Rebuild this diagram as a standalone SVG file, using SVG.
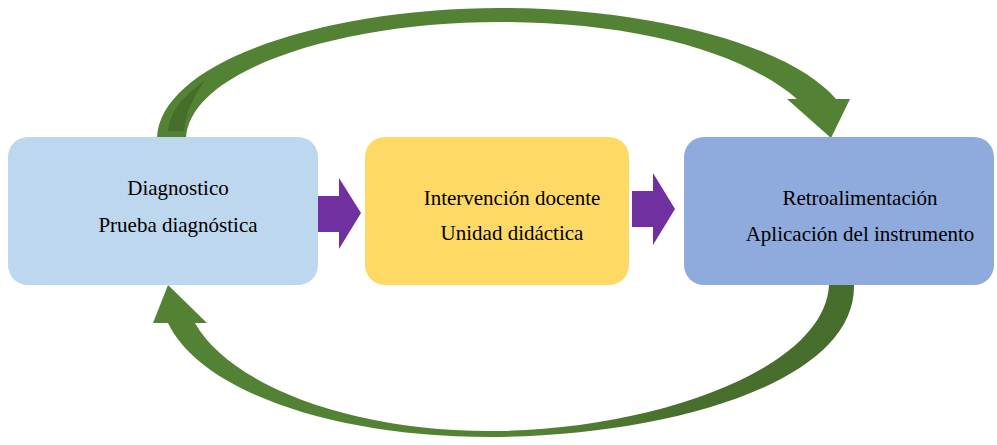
<svg xmlns="http://www.w3.org/2000/svg" width="997" height="445" viewBox="0 0 997 445">
<style>
  .lbl { font-family: "Liberation Serif", "Times New Roman", serif; font-size: 21px; fill: #000; text-anchor: middle; }
  .purple { fill: #7030A0; }
</style>
<defs>
  <linearGradient id="gBot" x1="0" y1="0" x2="1" y2="0">
    <stop offset="0" stop-color="#548235"/>
    <stop offset="0.55" stop-color="#548235"/>
    <stop offset="0.75" stop-color="#486F2D"/>
    <stop offset="1" stop-color="#466D2C"/>
  </linearGradient>
</defs>
<rect width="997" height="445" fill="#fff"/>
<g id="connectors">
  <path id="topArc" fill="#548235" d="M157,138 C160,60 330,8 500,8 C650,8 790,45 836,99 L850,99 L831,138 L787,99 L797,99 C740,50 630,22 500,22 C340,22 190,70 186,138 Z"/>
  <path fill="#466E2B" d="M168,131 C170,110 185,95 205,80 C195,95 186,110 184,131 Z"/>
  <path id="botArc" fill="url(#gBot)" d="M854,285 C856,385 660,437 490,437 C330,437 200,390 168,323 L153,323 L168,285 L207,323 L195,323 C230,385 350,431 490,431 C650,431 825,370 829,285 Z"/>
  <path id="arrow1" class="purple" d="M317,196 L339,196 L339,178 L361,213 L339,249 L339,232 L317,232 Z"/>
  <path id="arrow2" class="purple" d="M632,191 L653,191 L653,173 L675,209 L653,245 L653,227 L632,227 Z"/>
</g>
<g id="node-diagnostico">
  <rect x="8" y="137" width="310" height="148" rx="20" fill="#BDD7EE"/>
  <text class="lbl" x="178" y="195">Diagnostico</text>
  <text class="lbl" x="178" y="232">Prueba diagnóstica</text>
</g>
<g id="node-intervencion">
  <rect x="365" y="137" width="264" height="148" rx="20" fill="#FFD966"/>
  <text class="lbl" x="512" y="205">Intervención docente</text>
  <text class="lbl" x="512" y="240">Unidad didáctica</text>
</g>
<g id="node-retro">
  <rect x="684" y="137" width="310" height="148" rx="20" fill="#8FAADC"/>
  <text class="lbl" x="860" y="205">Retroalimentación</text>
  <text class="lbl" x="860" y="241">Aplicación del instrumento</text>
</g>
</svg>
